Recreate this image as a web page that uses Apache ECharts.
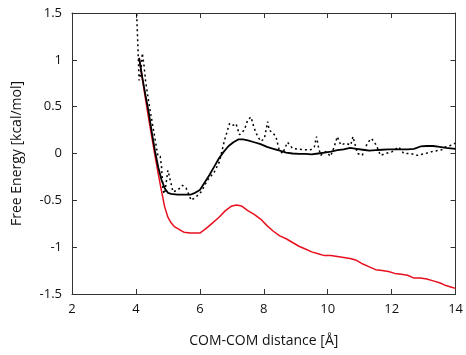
<!DOCTYPE html>
<html>
<head>
<meta charset="utf-8">
<script src="https://cdn.jsdelivr.net/npm/echarts@6/dist/echarts.min.js"></script>
<style>html,body{margin:0;padding:0;background:#fff}#c{width:466px;height:355px}</style>
</head>
<body>
<div id="c"></div>
<script>
const xTicks = [2, 4, 6, 8, 10, 12, 14];
const yTicks = [-1.5, -1, -0.5, 0, 0.5, 1, 1.5];

const redX = [4.10,4.20,4.30,4.40,4.50,4.60,4.70,4.80,4.90,5.00,5.10,5.20,5.30,5.40,5.50,5.70,6.00,6.20,6.40,6.60,6.80,7.00,7.15,7.30,7.50,7.70,7.90,8.10,8.30,8.50,8.70,8.90,9.10,9.30,9.50,9.70,9.90,10.10,10.30,10.50,10.70,10.90,11.10,11.30,11.50,11.70,11.90,12.10,12.30,12.50,12.70,12.90,13.10,13.30,13.50,13.70,13.90,14.00];
const redY = [1.02,0.80,0.58,0.37,0.17,-0.03,-0.22,-0.40,-0.57,-0.68,-0.74,-0.78,-0.80,-0.82,-0.84,-0.85,-0.85,-0.80,-0.74,-0.68,-0.61,-0.56,-0.55,-0.56,-0.61,-0.65,-0.70,-0.77,-0.83,-0.88,-0.91,-0.95,-0.99,-1.02,-1.05,-1.07,-1.09,-1.09,-1.10,-1.11,-1.12,-1.14,-1.18,-1.21,-1.24,-1.25,-1.26,-1.28,-1.29,-1.30,-1.33,-1.33,-1.34,-1.36,-1.38,-1.41,-1.43,-1.44];

const solidX = [4.10,4.20,4.30,4.40,4.50,4.60,4.70,4.80,4.90,5.00,5.10,5.30,5.50,5.70,5.85,6.00,6.15,6.30,6.45,6.60,6.75,6.90,7.05,7.20,7.35,7.50,7.70,7.90,8.10,8.30,8.50,8.70,8.90,9.10,9.30,9.50,9.70,9.90,10.10,10.30,10.50,10.70,10.90,11.10,11.30,11.50,11.70,11.90,12.10,12.30,12.50,12.70,12.90,13.10,13.30,13.50,13.70,14.00];
const solidY = [1.02,0.81,0.62,0.44,0.22,0.02,-0.15,-0.28,-0.37,-0.42,-0.43,-0.44,-0.44,-0.44,-0.42,-0.39,-0.31,-0.23,-0.14,-0.05,0.02,0.08,0.12,0.15,0.15,0.14,0.12,0.10,0.07,0.05,0.03,0.01,0.00,-0.005,-0.005,-0.01,0.00,0.01,0.02,0.035,0.045,0.06,0.05,0.04,0.03,0.035,0.04,0.045,0.045,0.045,0.045,0.05,0.075,0.08,0.08,0.07,0.06,0.05];

const dotX = [4.00,4.05,4.10,4.15,4.20,4.25,4.30,4.40,4.50,4.60,4.69,4.76,4.80,4.85,4.90,5.00,5.05,5.16,5.31,5.45,5.57,5.73,5.89,6.04,6.25,6.45,6.61,6.77,6.93,7.03,7.13,7.24,7.39,7.50,7.60,7.70,7.81,7.91,8.02,8.12,8.17,8.28,8.38,8.48,8.59,8.74,8.90,9.11,9.32,9.47,9.58,9.65,9.71,9.78,9.94,10.09,10.20,10.30,10.41,10.56,10.72,10.79,10.93,11.08,11.24,11.37,11.52,11.65,11.81,12.02,12.22,12.38,12.59,12.80,13.06,13.26,13.57,13.68,13.88,13.99];
const dotY = [1.70,1.25,0.78,0.85,1.07,0.95,0.78,0.55,0.35,0.15,-0.03,-0.03,-0.14,-0.40,-0.43,-0.18,-0.25,-0.41,-0.39,-0.34,-0.37,-0.50,-0.46,-0.41,-0.28,-0.20,-0.09,0.14,0.32,0.30,0.32,0.20,0.25,0.36,0.39,0.27,0.18,0.13,0.16,0.34,0.25,0.22,0.18,0.04,0.00,0.12,0.055,0.045,0.04,0.04,0.07,0.18,0.07,-0.02,0.02,-0.03,0.07,0.18,0.09,0.11,0.09,0.18,0.00,-0.02,0.11,0.16,0.09,-0.02,0.00,0.02,0.07,0.00,0.00,-0.02,0.00,0.02,0.04,0.07,0.09,0.11];

const zip = (a, b) => a.map((v, i) => [v, b[i]]);
const FONT = '"Open Sans", "Noto Sans", sans-serif';
const axisLine = { show: true, onZero: false, lineStyle: { color: '#333', width: 1 } };
const tick = { show: true, inside: true, length: 5, lineStyle: { color: '#333', width: 1 } };

const chart = echarts.init(document.getElementById('c'), null, { renderer: 'canvas' });
chart.setOption({
  animation: false,
  backgroundColor: '#fff',
  grid: { left: 72, right: 9, top: 13, bottom: 61, containLabel: false },
  xAxis: [
    { type: 'value', min: xTicks[0], max: xTicks[xTicks.length - 1], interval: 2, position: 'bottom',
      name: 'COM-COM distance [Å]', nameLocation: 'middle', nameGap: 40,
      nameTextStyle: { fontFamily: FONT, fontSize: 14, color: '#111' },
      axisLine, axisTick: tick, splitLine: { show: false },
      axisLabel: { fontFamily: FONT, fontSize: 13, color: '#111', margin: 9 } },
    { type: 'value', min: xTicks[0], max: xTicks[xTicks.length - 1], interval: 2, position: 'top',
      axisLine, axisTick: tick, splitLine: { show: false }, axisLabel: { show: false } }
  ],
  yAxis: [
    { type: 'value', min: yTicks[0], max: yTicks[yTicks.length - 1], interval: 0.5, position: 'left',
      name: 'Free Energy [kcal/mol]', nameLocation: 'middle', nameGap: 48, nameRotate: 90,
      nameTextStyle: { fontFamily: FONT, fontSize: 14, color: '#111' },
      axisLine, axisTick: tick, splitLine: { show: false },
      axisLabel: { fontFamily: FONT, fontSize: 13, color: '#111', margin: 10 } },
    { type: 'value', min: yTicks[0], max: yTicks[yTicks.length - 1], interval: 0.5, position: 'right',
      axisLine, axisTick: tick, splitLine: { show: false }, axisLabel: { show: false } }
  ],
  series: [
    { type: 'line', data: zip(redX, redY), showSymbol: false, clip: true,
      lineStyle: { color: '#e8101e', width: 1.5 } },
    { type: 'line', data: zip(dotX, dotY), showSymbol: false, clip: true,
      lineStyle: { color: '#000', width: 1.5, type: [2, 3] } },
    { type: 'line', data: zip(solidX, solidY), showSymbol: false, clip: true,
      lineStyle: { color: '#000', width: 1.8 } }
  ]
});
</script>
</body>
</html>
